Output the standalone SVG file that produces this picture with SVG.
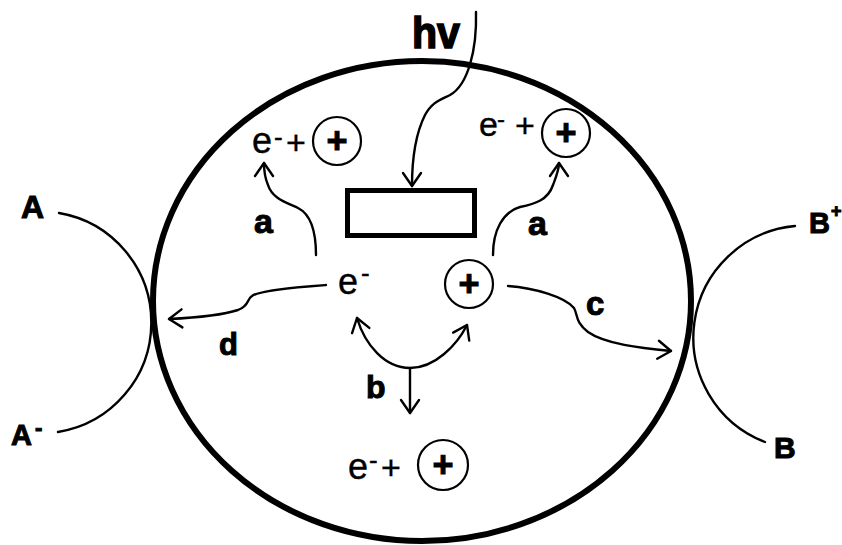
<svg xmlns="http://www.w3.org/2000/svg" width="842" height="545" viewBox="0 0 842 545">
<style>
.t{font-family:"Liberation Sans",Arial,sans-serif;fill:#000;stroke:#000;stroke-width:0.4}
.b{font-weight:bold;stroke-width:1}
.ln{fill:none;stroke:#000;stroke-width:2.4;stroke-linecap:round;stroke-linejoin:round}
.ar{marker-end:url(#ah)}
.pc{fill:#fff;stroke:#000;stroke-width:2.2}
</style>
<defs>
<marker id="ah" markerUnits="userSpaceOnUse" viewBox="-16 -12 20 24" refX="0" refY="0" markerWidth="20" markerHeight="24" orient="auto-start-reverse" overflow="visible">
<path d="M -13 -9 L 0 0 L -13 9" fill="none" stroke="#000" stroke-width="2.4" stroke-linecap="round" stroke-linejoin="round"/>
</marker>
</defs>
<rect width="842" height="545" fill="#fff"/>

<g id="cell">
<ellipse cx="422" cy="301" rx="269" ry="240" fill="none" stroke="#000" stroke-width="6"/>
</g>

<g id="absorber">
<rect x="347.5" y="190.5" width="127" height="45" fill="none" stroke="#000" stroke-width="5"/>
</g>

<g id="hv">
<text class="t b" x="412" y="48" font-size="45" textLength="48" lengthAdjust="spacingAndGlyphs" style="stroke-width:1.6">hv</text>
</g>

<g id="pair-top-left">
<text class="t" x="252" y="153" font-size="36">e</text>
<text class="t" x="274" y="146" font-size="26">-</text>
<text class="t" x="286" y="154" font-size="34">+</text>
<circle class="pc" cx="337" cy="141" r="24"/>
<text class="t b" x="337" y="153" font-size="36" text-anchor="middle">+</text>
</g>

<g id="pair-top-right">
<text class="t" x="479" y="136" font-size="34">e</text>
<text class="t" x="497" y="127" font-size="24">-</text>
<text class="t" x="515" y="137" font-size="34">+</text>
<circle class="pc" cx="566" cy="133" r="24"/>
<text class="t b" x="566" y="145" font-size="36" text-anchor="middle">+</text>
</g>

<g id="electron">
<text class="t" x="338" y="294" font-size="36">e</text>
<text class="t" x="361" y="282" font-size="26">-</text>
</g>

<g id="hole">
<circle class="pc" cx="469" cy="284" r="24"/>
<text class="t b" x="469" y="296" font-size="36" text-anchor="middle">+</text>
</g>

<g id="pair-bottom">
<text class="t" x="348" y="479" font-size="36">e</text>
<text class="t" x="369" y="469" font-size="26">-</text>
<text class="t" x="381" y="479" font-size="34">+</text>
<circle class="pc" cx="443" cy="465" r="25"/>
<text class="t b" x="443" y="477" font-size="36" text-anchor="middle">+</text>
</g>

<g id="A-side">
<text class="t b" x="21" y="218" font-size="32">A</text>
<text class="t b" x="11" y="445" font-size="29">A</text>
<text class="t b" x="35" y="435" font-size="22">-</text>
</g>

<g id="B-side">
<text class="t b" x="809" y="233" font-size="29">B</text>
<text class="t b" x="831" y="217" font-size="18">+</text>
<text class="t b" x="774" y="458" font-size="30">B</text>
</g>

<g id="connectors">
<path class="ln ar" d="M 476 12 C 477 50, 468 85, 450 95 C 440 100, 432 102, 425 115 C 415 135, 412 160, 412 186"/>
<path class="ln ar" d="M 316 255 C 316 235, 312 215, 298 208 C 285 202, 272 198, 268 185 C 265 178, 264 170, 264 163"/>
<path class="ln ar" d="M 493 255 C 493 230, 503 212, 520 207 C 535 204, 548 200, 553 185 C 556 177, 559 170, 559 163"/>
<path class="ln ar" d="M 326 285 C 300 287, 260 290, 252 296 C 246 300, 250 305, 238 310 C 220 316, 190 318, 169 319"/>
<path class="ln ar" d="M 508 286 C 535 288, 565 297, 574 308 C 578 315, 575 322, 588 332 C 605 344, 640 348, 671 351"/>
<path class="ln" style="marker-start:url(#ah);marker-end:url(#ah)" d="M 357 318 C 365 345, 385 368, 410 368 C 435 368, 457 345, 467 325"/>
<path class="ln ar" d="M 410 368 L 410 413"/>
<path class="ln" d="M 59 213 A 111 111 0 0 1 58 432"/>
<path class="ln" d="M 795 226 A 112 112 0 0 0 765 442"/>
</g>

<g id="labels">
<text class="t b" x="254" y="233" font-size="34">a</text>
<text class="t b" x="528" y="235" font-size="34">a</text>
<text class="t b" x="219" y="355" font-size="31">d</text>
<text class="t b" x="366" y="398" font-size="32">b</text>
<text class="t b" x="586" y="315" font-size="33">c</text>
</g>
</svg>
